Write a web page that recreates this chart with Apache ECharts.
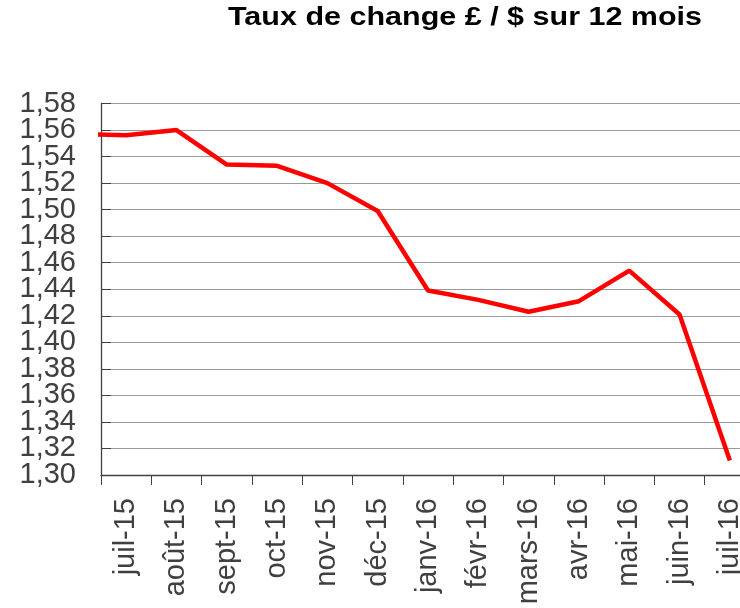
<!DOCTYPE html>
<html>
<head>
<meta charset="utf-8">
<script src="https://cdn.jsdelivr.net/npm/echarts@6/dist/echarts.min.js"></script>
<style>
  html, body { margin: 0; padding: 0; background: #ffffff; }
  #chart { width: 740px; height: 608px; }
</style>
</head>
<body>
<div id="chart"></div>
<script>
// Monthly average GBP/USD rate. The first month sits just left of the
// visible range so the line enters the plot from the axis.
const months = ['juin-15', 'juil-15', 'août-15', 'sept-15', 'oct-15', 'nov-15', 'déc-15',
  'janv-16', 'févr-16', 'mars-16', 'avr-16', 'mai-16', 'juin-16', 'juil-16'];
const rates = [1.557, 1.556, 1.560, 1.534, 1.533, 1.520, 1.499,
  1.439, 1.432, 1.423, 1.431, 1.454, 1.421, 1.311];
const yMin = 1.30, yMax = 1.58, yStep = 0.02;
const titleText = 'Taux de change £ / $ sur 12 mois';

const chart = echarts.init(document.getElementById('chart'), null, { renderer: 'canvas' });
const font = '"Liberation Sans", Arial, sans-serif';
const fmt = v => v.toFixed(2).replace('.', ',');
const isEnd = v => Math.abs(v - yMin) < 1e-6 || Math.abs(v - yMax) < 1e-6;

const labelStyle = {
  margin: 25,
  fontFamily: font,
  fontSize: 29,
  color: '#404040'
};

chart.setOption({
  animation: false,
  graphic: [{
    type: 'text',
    x: 228,
    y: 6,
    scaleX: 1.22,
    style: {
      text: titleText,
      font: 'bold 25px "Liberation Sans", Arial, sans-serif',
      fill: '#000000',
      textVerticalAlign: 'top'
    }
  }],
  // the plot runs past the right edge of the canvas, so the last column is cut
  grid: {
    left: 101, top: 103.5, width: 654, height: 371.5,
    containLabel: false,
    outerBoundsMode: 'none'
  },
  xAxis: {
    type: 'category',
    data: months,
    min: 1,
    max: 13,
    boundaryGap: true,
    axisLine: { lineStyle: { color: '#404040', width: 1.3 } },
    axisTick: { show: true, inside: false, length: 10, lineStyle: { color: '#404040' } },
    axisLabel: {
      rotate: 90,
      margin: 23,
      fontFamily: font,
      fontSize: 29,
      color: '#404040',
      interval: 0
    },
    splitLine: { show: false }
  },
  yAxis: [{
    // main scale: grid, ticks and the inner labels
    type: 'value',
    position: 'left',
    min: yMin,
    max: yMax,
    interval: yStep,
    axisLine: { show: true, lineStyle: { color: '#404040', width: 1.3 } },
    axisTick: { show: true, inside: true, length: 10, lineStyle: { color: '#404040' } },
    axisLabel: Object.assign({}, labelStyle, {
      formatter: v => isEnd(v) ? '' : fmt(v)
    }),
    splitLine: { show: true, lineStyle: { color: '#9a9a9a', width: 1 } }
  }, {
    // same scale, only the two end labels (they touch their neighbours)
    type: 'value',
    position: 'left',
    offset: 0,
    min: yMin,
    max: yMax,
    interval: yStep,
    axisLine: { show: false },
    axisTick: { show: false },
    splitLine: { show: false },
    axisLabel: Object.assign({}, labelStyle, {
      showMinLabel: true,
      showMaxLabel: true,
      formatter: v => isEnd(v) ? fmt(v) : ''
    })
  }],
  series: [{
    type: 'line',
    data: rates,
    yAxisIndex: 0,
    clip: true,
    symbol: 'none',
    lineStyle: { color: '#ff0000', width: 4.5 },
    itemStyle: { color: '#ff0000' }
  }]
});
</script>
</body>
</html>
